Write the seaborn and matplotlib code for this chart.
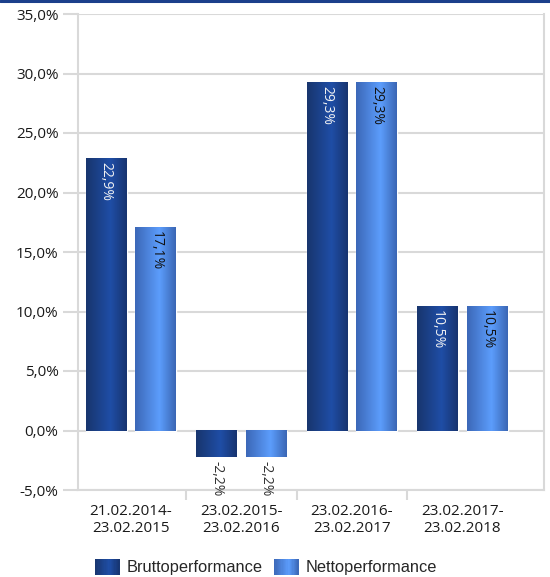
import matplotlib
matplotlib.use("Agg")
import matplotlib.pyplot as plt
import numpy as np
import pandas as pd
import seaborn as sns
from matplotlib.colors import LinearSegmentedColormap
from matplotlib.legend_handler import HandlerPatch
from matplotlib.lines import Line2D
from matplotlib.patches import Patch, Rectangle
from matplotlib.ticker import FixedLocator, FuncFormatter

periods = ["21.02.2014-\n23.02.2015", "23.02.2015-\n23.02.2016",
           "23.02.2016-\n23.02.2017", "23.02.2017-\n23.02.2018"]
series = ["Bruttoperformance", "Nettoperformance"]
brutto = [22.9, -2.2, 29.3, 10.5]
netto = [17.1, -2.2, 29.3, 10.5]

df = pd.DataFrame({
    "period": periods * 2,
    "series": [series[0]] * 4 + [series[1]] * 4,
    "value": brutto + netto,
})

# edge -> centre -> edge colours of the bar gradients
grad_colors = {
    series[0]: ["#18356e", "#1f4ea6", "#173470"],
    series[1]: ["#3c68b8", "#5c9dfc", "#3b67b5"],
}
label_colors = {series[0]: "#f2f2f2", series[1]: "#111111"}
cmaps = {k: LinearSegmentedColormap.from_list(k, [(0, v[0]), (0.6, v[1]), (1, v[2])])
         for k, v in grad_colors.items()}

sns.set_theme(style="white")
plt.rcParams["font.family"] = ["Open Sans", "DejaVu Sans"]

fig = plt.figure(figsize=(5.5, 5.77), dpi=100)
W, H = 550, 577
ax = fig.add_axes([78 / W, 1 - 490 / H, (544 - 78) / W, (490 - 14) / H])

sns.barplot(data=df, x="period", y="value", hue="series", order=periods,
            hue_order=series, palette=[grad_colors[s][1] for s in series],
            width=0.9, gap=0.18, legend=False, ax=ax, zorder=3)

# gradient fill for each bar
grad = np.linspace(0, 1, 64).reshape(1, -1)
for i, bar in enumerate(ax.patches):
    s = series[i // len(periods)]
    v = df["value"].iloc[i]
    x0, y0 = bar.get_x(), bar.get_y()
    w, h = bar.get_width(), bar.get_height()
    ax.imshow(grad, cmap=cmaps[s], extent=[x0, x0 + w, min(y0, y0 + h), max(y0, y0 + h)],
              aspect="auto", zorder=3.5, interpolation="bilinear")
    txt = f"{v:.1f}%".replace(".", ",")
    xc = x0 + w / 2
    color = label_colors[s] if v >= 0 else "#333333"
    ax.text(xc, v - 0.35, txt, rotation=270, ha="center", va="top",
            color=color, fontsize=10, zorder=5)
ax.set_xlim(-0.48, 3.74)
ax.set_ylim(-5, 35)

ax.yaxis.set_major_locator(FixedLocator(np.arange(-5, 36, 5)))
ax.yaxis.set_major_formatter(FuncFormatter(lambda v, p: f"{v:.1f}%".replace(".", ",")))
ax.grid(axis="y", color="#d9d9d9", linewidth=1.5, zorder=0)
ax.set_axisbelow(True)
ax.set_xlabel("")
ax.set_ylabel("")

for side in ["left", "right", "bottom"]:
    ax.spines[side].set_color("#d9d9d9")
    ax.spines[side].set_linewidth(1.5)
ax.spines["top"].set_visible(False)

ax.tick_params(axis="y", length=11, width=1.5, color="#d9d9d9", left=True,
               labelsize=11, labelcolor="#1a1a1a", pad=3)
ax.tick_params(axis="x", which="major", length=0, labelsize=11,
               labelcolor="#1a1a1a", pad=10)
ax.xaxis.set_minor_locator(FixedLocator([-0.5, 0.5, 1.5, 2.5]))
ax.tick_params(axis="x", which="minor", length=7, width=1.5, color="#d9d9d9", bottom=True)


class GradientHandler(HandlerPatch):
    def create_artists(self, legend, orig_handle, xdescent, ydescent, width, height,
                       fontsize, trans):
        cm = cmaps[orig_handle.get_label()]
        n = 20
        arts = []
        for k in range(n):
            r = Rectangle((-xdescent + width * k / n, -ydescent), width / n + 0.3, height,
                          facecolor=cm((k + 0.5) / n), edgecolor="none", transform=trans)
            arts.append(r)
        return arts


handles = [Patch(label=s) for s in series]
fig.legend(handles=handles, labels=series, loc="center", bbox_to_anchor=(266 / W, 1 - 567 / H),
           ncol=2, frameon=False, handler_map={Patch: GradientHandler()},
           prop={"family": ["Liberation Sans", "DejaVu Sans"], "size": 11.8},
           handlelength=1.5, handleheight=1.1, handletextpad=0.45, columnspacing=0.7)

# dark blue rule along the top edge
fig.add_artist(Line2D([0, 1], [1 - 0.8 / H, 1 - 0.8 / H], color="#1b3f8b", linewidth=2.2,
                      transform=fig.transFigure))

fig.savefig("out.png", dpi=100)
